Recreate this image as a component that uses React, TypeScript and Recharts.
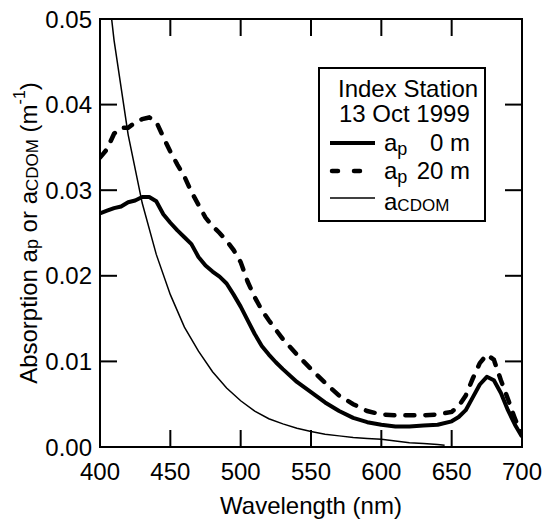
import { LineChart, Line, XAxis, YAxis, Legend, Label, ReferenceArea } from "recharts";

// a_p at 0 m (thick solid)
const ap0Wavelength = [400, 405, 410, 415, 420, 425, 430, 435, 440, 445, 450, 455, 460, 465, 470, 475, 480, 485, 490, 495, 500, 505, 510, 515, 520, 525, 530, 540, 550, 560, 570, 580, 590, 600, 610, 620, 630, 640, 650, 655, 660, 665, 670, 675, 680, 685, 690, 695, 700];
const ap0Values = [0.0273, 0.0276, 0.0279, 0.0281, 0.0286, 0.0288, 0.0292, 0.0292, 0.0287, 0.0272, 0.0262, 0.0253, 0.0245, 0.0237, 0.0222, 0.0212, 0.0205, 0.0199, 0.0191, 0.0178, 0.0164, 0.0148, 0.0132, 0.0118, 0.0108, 0.0099, 0.0091, 0.0076, 0.0064, 0.0052, 0.0042, 0.0034, 0.0029, 0.0026, 0.0024, 0.0024, 0.0025, 0.0026, 0.003, 0.0035, 0.0043, 0.0058, 0.0073, 0.0082, 0.0078, 0.0063, 0.0043, 0.0026, 0.0012];

// a_p at 20 m (dashed)
const ap20Wavelength = [400, 405, 410, 415, 420, 425, 430, 435, 440, 445, 450, 455, 460, 465, 470, 475, 480, 485, 490, 495, 500, 505, 510, 515, 520, 530, 540, 550, 560, 570, 580, 590, 600, 610, 620, 630, 640, 650, 655, 660, 665, 670, 675, 680, 685, 690, 695, 700];
const ap20Values = [0.0338, 0.0348, 0.0366, 0.0373, 0.0373, 0.0379, 0.0383, 0.0385, 0.038, 0.0362, 0.0345, 0.033, 0.0316, 0.0298, 0.0283, 0.0268, 0.0258, 0.025, 0.0241, 0.023, 0.0216, 0.0193, 0.0175, 0.016, 0.0148, 0.0126, 0.0108, 0.0091, 0.0075, 0.006, 0.005, 0.0042, 0.0038, 0.0037, 0.0037, 0.0037, 0.0038, 0.0041, 0.0048, 0.006, 0.008, 0.0098, 0.0108, 0.0102, 0.0078, 0.0056, 0.0033, 0.0014];

// a_CDOM (thin solid)
const cdomWavelength = [400, 410, 420, 430, 440, 450, 460, 470, 480, 490, 500, 510, 520, 530, 540, 550, 560, 570, 580, 590, 600, 610, 620, 630, 640, 645];
const cdomValues = [0.062, 0.0475, 0.0365, 0.0285, 0.0225, 0.0178, 0.014, 0.0112, 0.0088, 0.0069, 0.0054, 0.0042, 0.0033, 0.0027, 0.0022, 0.0018, 0.0015, 0.0013, 0.0011, 0.001, 0.0009, 0.0007, 0.0005, 0.0004, 0.0003, 0.0002];

const xTicks = [400, 450, 500, 550, 600, 650, 700];
const yTicks = [0, 0.01, 0.02, 0.03, 0.04, 0.05];

const toPoints = (wl: number[], vals: number[]) => wl.map((w, i) => ({ wl: w, a: vals[i] }));

const ap0Data = toPoints(ap0Wavelength, ap0Values);
const ap20Data = toPoints(ap20Wavelength, ap20Values);
const cdomData = toPoints(cdomWavelength, cdomValues);

const W = 544;
const H = 524;
const margin = { top: 19, right: 22, bottom: 0, left: 0 };
const TICK = 17;

// ticks point inward on all four sides, labels sit outside (bottom/left only)
const BottomTick = (props: any) => {
  const x = Number(props.x);
  const y = Number(props.y);
  const top = margin.top;
  return (
    <g>
      <path d={`M${x},${y - 16}V${y - 16 - TICK}`} stroke="#000" strokeWidth={2} fill="none" />
      <path d={`M${x},${top}V${top + TICK}`} stroke="#000" strokeWidth={2} fill="none" />
      <text x={x} y={y} dy="0.71em" textAnchor="middle" fontSize={24} fill="#000">
        {props.payload.value}
      </text>
    </g>
  );
};

const LeftTick = (props: any) => {
  const x = Number(props.x);
  const y = Number(props.y);
  const right = W - margin.right;
  return (
    <g>
      <path d={`M${x + 8},${y}H${x + 8 + TICK}`} stroke="#000" strokeWidth={2} fill="none" />
      <path d={`M${right},${y}H${right - TICK}`} stroke="#000" strokeWidth={2} fill="none" />
      <text x={x} y={y} dy="0.355em" textAnchor="end" fontSize={24} fill="#000">
        {props.payload.value.toFixed(2)}
      </text>
    </g>
  );
};

function LegendBox() {
  return (
    <svg width={168} height={155} style={{ display: "block" }}>
      <rect x={1} y={1} width={166} height={153} fill="#fff" stroke="#000" strokeWidth={2} />
      <text x={20} y={30} fontSize={24}>Index Station</text>
      <text x={21} y={55} fontSize={24}>13 Oct 1999</text>

      <line x1={12} x2={57} y1={76} y2={76} stroke="#000" strokeWidth={4} />
      <text x={66} y={84} fontSize={24}>
        a<tspan fontSize={18} dy={4}>p</tspan>
      </text>
      <text x={152} y={84} fontSize={24} textAnchor="end">0 m</text>

      <line x1={14} x2={57} y1={104} y2={104} stroke="#000" strokeWidth={4.5} strokeDasharray="6 16" strokeLinecap="round" />
      <text x={66} y={112} fontSize={24}>
        a<tspan fontSize={18} dy={4}>p</tspan>
      </text>
      <text x={152} y={112} fontSize={24} textAnchor="end">20 m</text>

      <line x1={12} x2={57} y1={131} y2={131} stroke="#000" strokeWidth={1.5} />
      <text x={66} y={143} fontSize={24}>
        a<tspan fontSize={17} dy={1}>CDOM</tspan>
      </text>
    </svg>
  );
}

export default function App() {
  return (
    <div style={{ position: "absolute", left: 0, top: 0, fontFamily: "'Liberation Sans', Arial, sans-serif" }}>
      <LineChart width={W} height={H} margin={margin}>
        <XAxis
          dataKey="wl"
          type="number"
          domain={[400, 700]}
          ticks={xTicks}
          interval={0}
          allowDataOverflow
          height={77}
          tickSize={0}
          tickMargin={16}
          axisLine={{ stroke: "#000", strokeWidth: 2 }}
          tickLine={false}
          tick={BottomTick}
        >
          <Label
            content={(props: any) => {
              const vb = props.viewBox || {};
              return (
                <text x={vb.x + vb.width / 2} y={514} textAnchor="middle" fontSize={24} fill="#000">
                  Wavelength (nm)
                </text>
              );
            }}
          />
        </XAxis>
        <YAxis
          type="number"
          domain={[0, 0.05]}
          ticks={yTicks}
          interval={0}
          allowDataOverflow
          width={100}
          tickSize={0}
          tickMargin={8}
          axisLine={{ stroke: "#000", strokeWidth: 2 }}
          tickLine={false}
          tick={LeftTick}
        >
          <Label
            content={(props: any) => {
              const vb = props.viewBox || {};
              const cy = vb.y + vb.height / 2;
              return (
                <text
                  x={28}
                  y={cy}
                  transform={`rotate(-90 28 ${cy})`}
                  textAnchor="middle"
                  dominantBaseline="central"
                  fontSize={24}
                  fill="#000"
                >
                  Absorption a<tspan fontSize={18} dy={4}>p</tspan>
                  <tspan dy={-4}> or a</tspan>
                  <tspan fontSize={17} dy={4}>CDOM</tspan>
                  <tspan dy={-4}> (m</tspan>
                  <tspan fontSize={16} dy={-9}>-1</tspan>
                  <tspan dy={9}>)</tspan>
                </text>
              );
            }}
          />
        </YAxis>
        {/* plot frame */}
        <ReferenceArea x1={400} x2={700} y1={0} y2={0.05} fill="none" stroke="#000" strokeWidth={2} />
        <Legend
          layout="vertical"
          align="center"
          verticalAlign="middle"
          content={() => <LegendBox />}
          wrapperStyle={{ left: 318, top: 67, width: 168, height: 155 }}
        />
        <Line data={cdomData} dataKey="a" name="aCDOM" type="linear" stroke="#000" strokeWidth={1.5} dot={false} isAnimationActive={false} />
        <Line data={ap0Data} dataKey="a" name="ap 0 m" type="linear" stroke="#000" strokeWidth={4} strokeLinejoin="round" dot={false} isAnimationActive={false} />
        <Line data={ap20Data} dataKey="a" name="ap 20 m" type="linear" stroke="#000" strokeWidth={4.5} strokeDasharray="9 11" strokeLinecap="round" dot={false} isAnimationActive={false} />
      </LineChart>
    </div>
  );
}
